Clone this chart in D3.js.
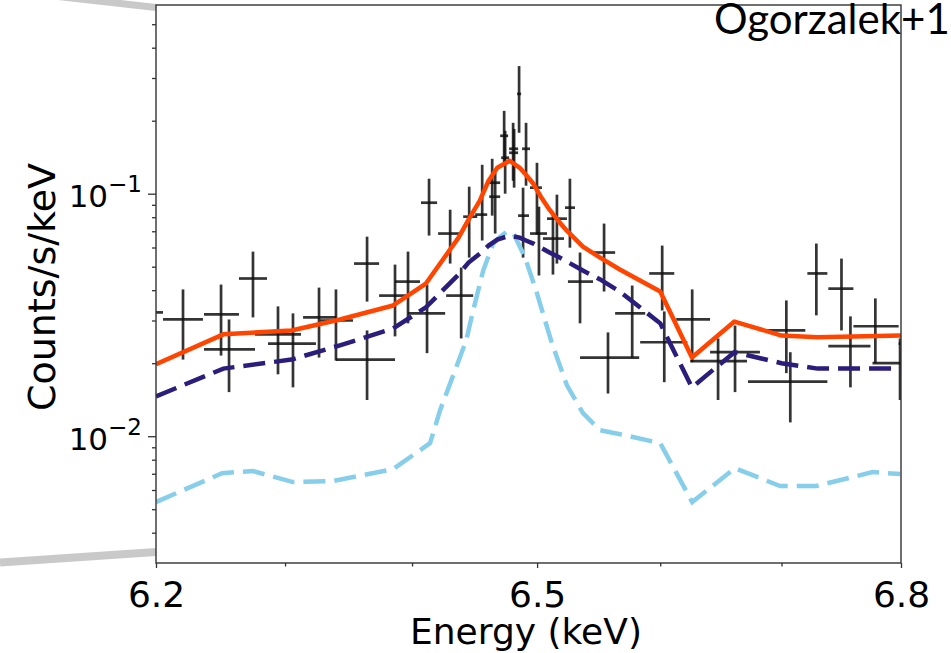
<!DOCTYPE html>
<html>
<head>
<meta charset="utf-8">
<script src="https://cdn.jsdelivr.net/npm/d3@7"></script>
<style>
  html, body { margin: 0; padding: 0; background: #fff; overflow: hidden; }
  svg { display: block; }
</style>
</head>
<body>
<svg id="chart" width="951" height="653"></svg>
<script>
// Binned spectrum: [energy keV, rate, rate low, rate high, bin low keV, bin high keV]
const spectrum = [
  [6.1954, 0.0324, 0.0226, 0.0438, 6.1854, 6.2054],
  [6.2208, 0.0303, 0.0207, 0.0403, 6.2054, 6.2362],
  [6.2502, 0.0318, 0.0215, 0.0422, 6.2370, 6.2641],
  [6.2564, 0.0228, 0.0152, 0.0303, 6.2370, 6.2766],
  [6.2750, 0.0447, 0.0309, 0.0577, 6.2641, 6.2859],
  [6.2945, 0.0263, 0.0180, 0.0343, 6.2766, 6.3125],
  [6.3062, 0.0241, 0.0159, 0.0321, 6.2867, 6.3242],
  [6.3266, 0.0309, 0.0211, 0.0410, 6.3141, 6.3399],
  [6.3399, 0.0300, 0.0205, 0.0403, 6.3274, 6.3533],
  [6.3644, 0.0207, 0.0141, 0.0273, 6.3399, 6.3865],
  [6.3644, 0.0515, 0.0359, 0.0665, 6.3541, 6.3739],
  [6.3865, 0.0380, 0.0258, 0.0510, 6.3739, 6.3960],
  [6.3968, 0.0434, 0.0292, 0.0577, 6.3865, 6.4063],
  [6.4119, 0.0321, 0.0220, 0.0422, 6.3968, 6.4263],
  [6.4135, 0.0918, 0.0672, 0.1153, 6.4071, 6.4199],
  [6.4303, 0.0685, 0.0515, 0.0859, 6.4207, 6.4391],
  [6.4391, 0.0380, 0.0253, 0.0496, 6.4271, 6.4487],
  [6.4455, 0.0804, 0.0545, 0.1069, 6.4407, 6.4519],
  [6.4559, 0.0820, 0.0641, 0.1316, 6.4503, 6.4599],
  [6.4639, 0.1110, 0.0812, 0.1393, 6.4607, 6.4703],
  [6.4663, 0.0972, 0.0685, 0.1220, 6.4615, 6.4703],
  [6.4735, 0.1733, 0.1304, 0.2196, 6.4703, 6.4767],
  [6.4743, 0.1407, 0.1000, 0.1817, 6.4711, 6.4775],
  [6.4807, 0.1532, 0.1131, 0.1960, 6.4775, 6.4847],
  [6.4815, 0.1475, 0.1059, 0.1850, 6.4775, 6.4847],
  [6.4855, 0.2580, 0.1783, 0.3360, 6.4839, 6.4871],
  [6.4911, 0.1532, 0.1079, 0.1960, 6.4879, 6.4943],
  [6.4887, 0.0812, 0.0545, 0.1059, 6.4847, 6.4935],
  [6.4999, 0.1059, 0.0678, 0.1341, 6.4943, 6.5039],
  [6.5015, 0.0685, 0.0460, 0.0884, 6.4943, 6.5080],
  [6.5128, 0.0653, 0.0464, 0.0820, 6.5047, 6.5217],
  [6.5160, 0.0789, 0.0515, 0.0991, 6.5080, 6.5241],
  [6.5265, 0.0876, 0.0599, 0.1153, 6.5225, 6.5306],
  [6.5347, 0.0434, 0.0292, 0.0572, 6.5249, 6.5452],
  [6.5542, 0.0572, 0.0395, 0.0753, 6.5452, 6.5632],
  [6.5771, 0.0321, 0.0211, 0.0418, 6.5632, 6.5877],
  [6.5574, 0.0211, 0.0150, 0.0268, 6.5347, 6.5828],
  [6.6016, 0.0469, 0.0330, 0.0611, 6.5910, 6.6115],
  [6.6033, 0.0244, 0.0167, 0.0327, 6.5836, 6.6222],
  [6.6262, 0.0303, 0.0202, 0.0403, 6.6131, 6.6409],
  [6.6475, 0.0204, 0.0141, 0.0253, 6.6246, 6.6714],
  [6.6615, 0.0222, 0.0152, 0.0286, 6.6409, 6.6821],
  [6.7040, 0.0273, 0.0182, 0.0363, 6.6838, 6.7198],
  [6.7073, 0.0168, 0.0114, 0.0222, 6.6722, 6.7382],
  [6.7290, 0.0469, 0.0315, 0.0623, 6.7215, 6.7382],
  [6.7500, 0.0406, 0.0273, 0.0540, 6.7390, 6.7600],
  [6.7575, 0.0235, 0.0159, 0.0312, 6.7390, 6.7743],
  [6.7784, 0.0284, 0.0200, 0.0370, 6.7600, 6.7980],
  [6.7992, 0.0200, 0.0141, 0.0253, 6.7760, 6.8270],
  [6.8119, 0.0241, 0.0170, 0.0315, 6.7980, 6.8305]
];

// Total model (continuum + Fe line): [energy keV, rate]
const totalModel = [
  [6.200, 0.0198], [6.252, 0.0263], [6.305, 0.0273], [6.343, 0.0303],
  [6.385, 0.0346], [6.411, 0.0426], [6.437, 0.0659], [6.445, 0.0782],
  [6.454, 0.0936], [6.461, 0.1131], [6.468, 0.1279], [6.478, 0.1367],
  [6.486, 0.1279], [6.491, 0.1197], [6.497, 0.1099], [6.503, 0.0972],
  [6.510, 0.0859], [6.517, 0.0774], [6.524, 0.0704], [6.537, 0.0605],
  [6.551, 0.0545], [6.567, 0.0487], [6.600, 0.0395], [6.626, 0.0211],
  [6.661, 0.0297], [6.700, 0.0260], [6.730, 0.0256], [6.800, 0.0260]
];

// Continuum component
const continuumModel = [
  [6.200, 0.0146], [6.252, 0.0190], [6.305, 0.0207], [6.343, 0.0237],
  [6.385, 0.0278], [6.411, 0.0340], [6.437, 0.0464], [6.445, 0.0520],
  [6.454, 0.0566], [6.461, 0.0611], [6.468, 0.0647], [6.478, 0.0672],
  [6.486, 0.0659], [6.491, 0.0641], [6.497, 0.0623], [6.503, 0.0599],
  [6.510, 0.0572], [6.517, 0.0550], [6.524, 0.0525], [6.537, 0.0482],
  [6.551, 0.0443], [6.567, 0.0395], [6.600, 0.0292], [6.626, 0.0159],
  [6.661, 0.0222], [6.700, 0.0200], [6.730, 0.0190], [6.800, 0.0190]
];

// Fe K line component
const lineModel = [
  [6.2000, 0.00535], [6.2510, 0.00704], [6.2750, 0.00718], [6.3062, 0.00647],
  [6.3376, 0.00653], [6.3849, 0.00731], [6.4143, 0.00936], [6.4199, 0.01164],
  [6.4223, 0.0128],  [6.4431, 0.0248],  [6.4487, 0.0330],  [6.4567, 0.0482],
  [6.4647, 0.0623],  [6.4703, 0.0665],  [6.4758, 0.0698],  [6.4807, 0.0691],
  [6.4903, 0.0545],  [6.4999, 0.0388],  [6.5120, 0.0241],  [6.5241, 0.0162],
  [6.5371, 0.01244], [6.5509, 0.01058], [6.5673, 0.01019], [6.6000, 0.00936],
  [6.6262, 0.00535], [6.6615, 0.00738], [6.6988, 0.00623], [6.7290, 0.00623],
  [6.7760, 0.00711], [6.7992, 0.00698]
];

// Axis ticks
const energyMajor = [6.2, 6.5, 6.8];
const energyMinor = [6.3, 6.4, 6.6, 6.7];
const rateMajor = [0.01, 0.1];
const rateMajorLabels = ["−2", "−1"];
const rateMinor = [0.004, 0.005, 0.006, 0.007, 0.008, 0.009,
                   0.02, 0.03, 0.04, 0.05, 0.06, 0.07, 0.08, 0.09,
                   0.2, 0.3, 0.4, 0.5];

const plot = { left: 156, right: 901, top: 5, bottom: 563 };
const svg = d3.select("#chart");

const x = d3.scaleLog().domain([6.2, 6.8]).range([plot.left, plot.right]);
const y = d3.scaleLog().domain([0.003, 0.6]).range([plot.bottom, plot.top]);

// zoom guide strokes leading into the panel
svg.append("line")
  .attr("x1", 0).attr("y1", -10).attr("x2", plot.left).attr("y2", 7.5)
  .attr("stroke", "#c9c9c9").attr("stroke-width", 7);
svg.append("line")
  .attr("x1", 0).attr("y1", 562.5).attr("x2", plot.left).attr("y2", 552)
  .attr("stroke", "#c9c9c9").attr("stroke-width", 8);

svg.append("defs").append("clipPath").attr("id", "plot-clip")
  .append("rect")
  .attr("x", plot.left).attr("y", plot.top)
  .attr("width", plot.right - plot.left).attr("height", plot.bottom - plot.top);

const body = svg.append("g").attr("clip-path", "url(#plot-clip)");

// data crosses
const crosses = body.append("g")
  .attr("stroke", "#111").attr("stroke-opacity", 0.85)
  .attr("stroke-width", 2.7).attr("fill", "none");
crosses.selectAll("line.v").data(spectrum).join("line").attr("class", "v")
  .attr("x1", d => x(d[0])).attr("x2", d => x(d[0]))
  .attr("y1", d => y(d[2])).attr("y2", d => y(d[3]));
crosses.selectAll("line.h").data(spectrum).join("line").attr("class", "h")
  .attr("x1", d => x(d[4])).attr("x2", d => x(d[5]))
  .attr("y1", d => y(d[1])).attr("y2", d => y(d[1]));

const path = d3.line().x(d => x(d[0])).y(d => y(d[1]));

body.append("path").datum(lineModel)
  .attr("d", path).attr("fill", "none")
  .attr("stroke", "#87ceeb").attr("stroke-width", 4.5)
  .attr("stroke-dasharray", "22,9");

body.append("path").datum(continuumModel)
  .attr("d", path).attr("fill", "none")
  .attr("stroke", "#2b1d7c").attr("stroke-width", 4.5)
  .attr("stroke-dasharray", "22,9");

body.append("path").datum(totalModel)
  .attr("d", path).attr("fill", "none")
  .attr("stroke", "#ff4500").attr("stroke-width", 4.5)
  .attr("stroke-linejoin", "round");

// axes
const tickColor = "#333";
const styleAxis = g => {
  g.select(".domain").remove();
  g.selectAll(".tick line").attr("stroke", tickColor).attr("stroke-width", 1.3);
};

svg.append("g").attr("transform", `translate(0,${plot.bottom})`)
  .call(d3.axisBottom(x).tickValues(energyMinor).tickSize(3.5).tickFormat(""))
  .call(styleAxis);

svg.append("g").attr("transform", `translate(0,${plot.bottom})`)
  .call(d3.axisBottom(x).tickValues(energyMajor).tickSize(5).tickFormat(d3.format(".1f")))
  .call(styleAxis)
  .call(g => g.selectAll(".tick text")
    .attr("y", 44).attr("dy", 0)
    .attr("fill", "#000")
    .style("font-family", "'DejaVu Sans', sans-serif")
    .style("font-size", "36px"));

svg.append("g").attr("transform", `translate(${plot.left},0)`)
  .call(d3.axisLeft(y).tickValues(rateMinor).tickSize(4).tickFormat(""))
  .call(styleAxis);

svg.append("g").attr("transform", `translate(${plot.left},0)`)
  .call(d3.axisLeft(y).tickValues(rateMajor).tickSize(8).tickFormat(""))
  .call(styleAxis)
  .call(g => g.selectAll(".tick").each(function (d, i) {
    const t = d3.select(this).select("text")
      .attr("x", -14).attr("y", 13).attr("dy", 0)
      .attr("text-anchor", "end").attr("fill", "#000")
      .style("font-family", "'DejaVu Sans', sans-serif");
    t.text(null);
    t.append("tspan").style("font-size", "31px").text("10");
    t.append("tspan").style("font-size", "23px").attr("dy", -15).text(rateMajorLabels[i]);
  }));

// frame
svg.append("rect")
  .attr("x", plot.left).attr("y", plot.top)
  .attr("width", plot.right - plot.left).attr("height", plot.bottom - plot.top)
  .attr("fill", "none").attr("stroke", tickColor).attr("stroke-width", 1.4);

// axis titles
svg.append("text")
  .attr("x", 526).attr("y", 644).attr("text-anchor", "middle")
  .style("font-family", "'DejaVu Sans', sans-serif").style("font-size", "36px")
  .text("Energy (keV)");

svg.append("text")
  .attr("transform", "translate(55,287) rotate(-90)").attr("text-anchor", "middle")
  .style("font-family", "'DejaVu Sans', sans-serif").style("font-size", "38px")
  .text("Counts/s/keV");

// reference tag
svg.append("text")
  .attr("x", 714).attr("y", 34)
  .style("font-family", "Lato, sans-serif").style("font-size", "42px")
  .text("Ogorzalek+1");
</script>
</body>
</html>
